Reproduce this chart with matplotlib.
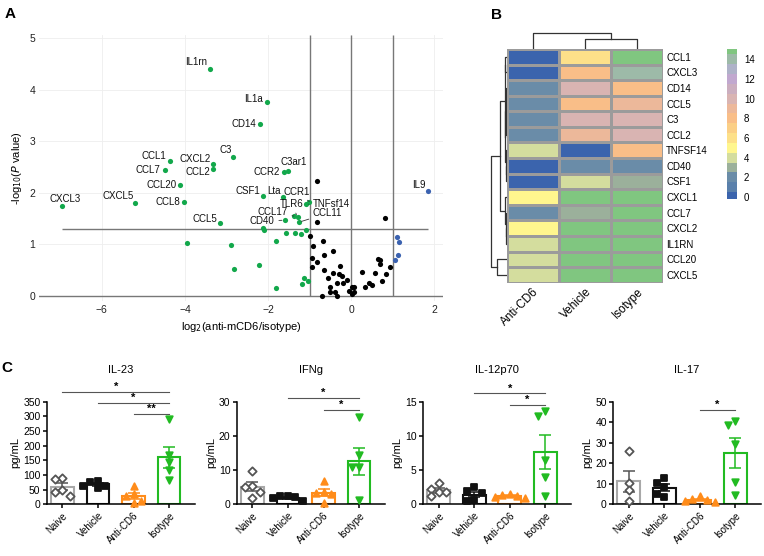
import numpy as np
import matplotlib.pyplot as plt
from matplotlib.colors import ListedColormap

plt.rcParams['font.family'] = ['Liberation Sans', 'DejaVu Sans']

# ---------------- A : volcano data ----------------
lab_genes = ['IL1rn', 'IL1a', 'CD14', 'C3', 'CCL1', 'CXCL2', 'CCL2', 'CCL7', 'CCR2', 'C3ar1',
             'CCL20', 'CSF1', 'Lta', 'CCR1', 'TNFsf14', 'CCL8', 'CXCL5', 'CXCL3', 'TLR6',
             'CCL17', 'CD40', 'CCL11', 'CCL5']
lab_fc = [-3.39, -2.02, -2.20, -2.84, -4.37, -3.32, -3.33, -4.49, -1.61, -1.52,
          -4.12, -2.13, -1.63, -1.01, -1.10, -4.01, -5.21, -6.96, -1.29,
          -1.38, -1.60, -1.26, -3.16]
lab_p = [4.39, 3.76, 3.33, 2.70, 2.62, 2.56, 2.46, 2.44, 2.40, 2.42,
         2.15, 1.93, 1.92, 1.83, 1.78, 1.83, 1.81, 1.75, 1.53,
         1.55, 1.47, 1.43, 1.41]

green_fc = [-3.95, -2.88, -2.81, -2.12, -2.10, -1.58, -1.35, -1.21, -1.09, -1.81,
            -2.22, -1.14, -1.18, -1.03, -1.80]
green_p = [1.02, 0.99, 0.52, 1.32, 1.27, 1.22, 1.23, 1.21, 1.27, 1.07,
           0.60, 0.35, 0.24, 0.30, 0.16]

black_fc = [-0.83, -0.82, 0.81, -1.00, -0.69, -0.93, -0.45, -0.66, -0.95, -0.82,
            -0.94, -0.26, -0.66, -0.43, -0.29, -0.23, -0.56, -0.11, -0.34, -0.21,
            -0.50, 0.02, 0.06, -0.05, 0.06, -0.40, -0.52, -0.70, -0.35, 0.01,
            0.25, 0.32, 0.42, 0.50, 0.57, 0.65, 0.70, 0.70, 0.73, 0.84, 0.93]
black_p = [2.22, 1.44, 1.52, 1.17, 1.07, 0.97, 0.88, 0.79, 0.73, 0.66,
           0.57, 0.59, 0.50, 0.44, 0.43, 0.39, 0.35, 0.32, 0.26, 0.25,
           0.18, 0.18, 0.17, 0.10, 0.07, 0.08, 0.07, 0.01, 0.01, 0.04,
           0.46, 0.18, 0.25, 0.21, 0.44, 0.72, 0.69, 0.62, 0.30, 0.43, 0.56]

blue_fc = [1.85, 1.11, 1.15, 1.13, 1.04]
blue_p = [2.03, 1.14, 1.05, 0.79, 0.70]

p_cut = 1.3

# label placement (pixels from the point), ha, leader line
lab_pos = {
    'IL1rn': (-3, 7, 'right', False), 'IL1a': (-4, 3, 'right', False),
    'CD14': (-4, 0, 'right', False), 'C3': (-1, 7, 'right', False),
    'CCL1': (-3, 5, 'right', False), 'CXCL2': (-2, 5, 'right', False),
    'CCL2': (-3, -3, 'right', False), 'CCL7': (-4, 0, 'right', False),
    'CCR2': (-4, 0, 'right', False), 'C3ar1': (6, 9, 'center', False),
    'CCL20': (-3, 0, 'right', False), 'CSF1': (-2, 5, 'right', False),
    'Lta': (-3, 6, 'right', False), 'CCR1': (-13, 10, 'center', True),
    'TNFsf14': (7, 0, 'left', True), 'CCL8': (-4, 0, 'right', False),
    'CXCL5': (-1, 7, 'right', False), 'CXCL3': (3, 7, 'center', False),
    'TLR6': (-6, 13, 'center', True), 'CCL17': (-6, 4, 'right', True),
    'CD40': (-10, -1, 'right', True), 'CCL11': (14, 9, 'left', True),
    'CCL5': (-3, 4, 'right', False),
}

# ---------------- B : heatmap data ----------------
hm_rows = ['CCL1', 'CXCL3', 'CD14', 'CCL5', 'C3', 'CCL2', 'TNFSF14', 'CD40', 'CSF1',
           'CXCL1', 'CCL7', 'CXCL2', 'IL1RN', 'CCL20', 'CXCL5']
hm_cols = ['Anti-CD6', 'Vehicle', 'Isotype']
anti_cd6 = [0, 0, 2, 2, 2, 2, 4, 0, 0, 5, 2, 5, 4, 4, 4]
vehicle = [6, 8, 10, 8, 10, 9, 0, 2, 4, 15, 3, 15, 15, 15, 15]
isotype = [15, 14, 8, 9, 10, 10, 8, 2, 3, 15, 15, 15, 15, 15, 15]
hm_palette = ['#3b64ad', '#5a80ab', '#6a8ca8', '#9bb09b', '#d4dd9e', '#fff68e', '#fde089',
              '#fbcf86', '#f9be88', '#ecb89a', '#d9b4b2', '#cbaebf', '#c1a8cf', '#aeb2c8',
              '#9dbaa8', '#80c680']

# dendrograms: [left, right, height]
row_tree = [[[[0, 1, .08], [[[2, 3, .03], [4, 5, .03], .05], [6, [7, 8, .04], .07], .1], .12],
             [9, [10, [11, 12, .03], .05], .08], .43],
            [13, 14, .65], 1.0]
col_tree = [0, [1, 2, .64], 1.0]

# ---------------- C : cytokines (pg/mL) ----------------
groups = ['Naive', 'Vehicle', 'Anti-CD6', 'Isotype']
il23 = [[91, 86, 48, 42, 30], [80, 76, 64, 62, 56], [62, 34, 27, 12, 5], [290, 168, 143, 117, 84]]
ifng = [[9.7, 5.3, 5.1, 3.6, 1.9], [2.5, 2.3, 2.1, 1.7, 1.0], [6.7, 3.6, 3.2, 3.0, 0.5], [25.4, 14.4, 11.0, 11.0, 1.2]]
il12 = [[3.1, 2.3, 1.8, 1.8, 1.2], [2.5, 1.9, 1.6, 0.6, 0.5], [1.5, 1.3, 1.2, 1.1, 0.9], [13.7, 12.9, 6.5, 4.0, 1.2]]
il17 = [[25.9, 10.4, 7.1, 1.6], [12.8, 10.4, 8.4, 5.2, 3.6], [3.9, 2.5, 2.0, 1.5, 1.0], [40.8, 38.8, 29.4, 10.8, 4.7]]
cyto_titles = ['IL-23', 'IFNg', 'IL-12p70', 'IL-17']
cyto_ymax = [350, 30, 15, 50]
cyto_step = [50, 10, 5, 10]
# (group a, group b, height, label)
cyto_sig = [[(0, 3, 383, '*'), (1, 3, 345, '*'), (2, 3, 308, '**')],
            [(1, 3, 31, '*'), (2, 3, 27.6, '*')],
            [(1, 3, 16.2, '*'), (2, 3, 14.5, '*')],
            [(2, 3, 46, '*')]]

W, H = 764, 556
fig = plt.figure(figsize=(W / 100, H / 100), dpi=100)


def px_axes(x0, y0, x1, y1):
    return fig.add_axes([x0 / W, 1 - y1 / H, (x1 - x0) / W, (y1 - y0) / H])


# ===== A =====
green = '#12a84b'
ax = px_axes(39.3, 35.4, 442.8, 301.2)
ax.set_xlim(-7.5, 2.2)
ax.set_ylim(-0.1, 5.05)
for s in ax.spines.values():
    s.set_visible(False)
ax.set_xticks([-6, -4, -2, 0, 2])
ax.set_yticks(range(6))
ax.grid(color='#eeeeee', lw=0.6)
ax.set_axisbelow(True)
ax.tick_params(length=0, labelsize=7.5, colors='#222222', pad=3)
ax.axhline(0, color='#777777', lw=1, zorder=1)
ax.vlines([-1, 0, 1], 0, 5.05, color='#777777', lw=1, zorder=1)
ax.hlines(p_cut, min(lab_fc), max(blue_fc), color='#777777', lw=1, zorder=1)
ax.scatter(black_fc, black_p, s=14, color='black', zorder=3, clip_on=False, lw=0)
ax.scatter(green_fc, green_p, s=14, color=green, zorder=3, clip_on=False, lw=0)
ax.scatter(lab_fc, lab_p, s=14, color=green, zorder=3, clip_on=False, lw=0)
ax.scatter(blue_fc, blue_p, s=14, color='#3b62b0', zorder=3, clip_on=False, lw=0)
for g, x, y in zip(lab_genes, lab_fc, lab_p):
    dx, dy, ha, lead = lab_pos[g]
    ax.annotate(g, (x, y), xytext=(dx, dy), textcoords='offset pixels', ha=ha, va='center',
                fontsize=7, color='#111111', zorder=4,
                arrowprops=dict(arrowstyle='-', color='#333333', lw=0.6, shrinkA=1, shrinkB=2) if lead else None)
ax.annotate('IL9', (blue_fc[0], blue_p[0]), xytext=(-3, 6), textcoords='offset pixels', ha='right',
            va='center', fontsize=7, color='#111111')
ax.set_xlabel('log$_2$(anti-mCD6/isotype)', fontsize=8, labelpad=3)
ax.set_ylabel('-log$_{10}$($\\mathit{P}$ value)', fontsize=8, labelpad=4)

# ===== B =====
vals = np.array([anti_cd6, vehicle, isotype]).T
cmap = ListedColormap(hm_palette)
axh = px_axes(506.7, 49, 663.3, 282.7)
mesh = axh.pcolormesh(vals, cmap=cmap, vmin=-0.5, vmax=15.5, edgecolors='#9b9b9b', lw=0.8)
axh.set_xlim(0, 3)
axh.set_ylim(len(hm_rows), 0)
for s in axh.spines.values():
    s.set_visible(False)
axh.yaxis.tick_right()
axh.set_yticks(np.arange(len(hm_rows)) + 0.5)
axh.set_yticklabels(hm_rows, fontsize=7)
axh.set_xticks(np.arange(3) + 0.5)
axh.set_xticklabels(hm_cols, fontsize=8.5, rotation=45, ha='right', va='top', rotation_mode='anchor')
axh.tick_params(length=0, pad=2)

cax = px_axes(727, 49, 737, 199)
cb = fig.colorbar(mesh, cax=cax)
cb.outline.set_visible(False)
cb.set_ticks(range(0, 15, 2))
cax.set_ylim(-0.2, 15.05)
cax.tick_params(length=0, labelsize=7, pad=5)


def draw_tree(a, node, orient):
    # returns (position, height)
    if not isinstance(node, list):
        return node + 0.5, 0.0
    p1, h1 = draw_tree(a, node[0], orient)
    p2, h2 = draw_tree(a, node[1], orient)
    h = node[2]
    if orient == 'left':
        a.plot([h1, h, h, h2], [p1, p1, p2, p2], color='#333333', lw=0.9)
    else:
        a.plot([p1, p1, p2, p2], [h1, h, h, h2], color='#333333', lw=0.9)
    return (p1 + p2) / 2, h


axr = px_axes(490, 49, 506.7, 282.7)
draw_tree(axr, row_tree, 'left')
axr.set_xlim(1.085, 0)
axr.set_ylim(len(hm_rows), 0)
axr.axis('off')

axc = px_axes(506.7, 30, 663.3, 49)
draw_tree(axc, col_tree, 'top')
axc.set_xlim(0, 3)
axc.set_ylim(0, 1.21)
axc.axis('off')

# ===== C =====
cols_edge = ['#a8a8a8', '#111111', '#ff8c1a', '#22bb22']
mk = ['D', 's', '^', 'v']
mk_face = ['white', '#111111', '#ff8c1a', '#22bb22']
mk_edge = ['#555555', '#111111', '#ff8c1a', '#22bb22']


def swarm(v, dy, dx=0.21):
    # simple beeswarm: place each point at the first free horizontal slot
    v = np.asarray(v, float)
    off = np.zeros(len(v))
    placed = []
    for i in np.argsort(-v):
        for step in [0, -1, 1, -2, 2, -3, 3]:
            x = step * dx
            if all(abs(x - px) > dx * 0.9 or abs(v[i] - py) > dy for px, py in placed):
                break
        off[i] = x
        placed.append((x, v[i]))
    return off


lefts = [46.7, 236.7, 423, 613]
for k, data in enumerate([il23, ifng, il12, il17]):
    a = px_axes(lefts[k], 401.7, lefts[k] + 148, 504.3)
    ymax = cyto_ymax[k]
    for g, v in enumerate(data):
        m = np.mean(v)
        sem = np.std(v, ddof=1) / np.sqrt(len(v))
        a.bar(g, m, width=0.64, facecolor='white', edgecolor=cols_edge[g], lw=1.5, zorder=1)
        a.errorbar(g, m, yerr=sem, color=mk_edge[g], capsize=4, lw=1.1, capthick=1.1, zorder=2)
        off = swarm(v, ymax * 0.065)
        a.scatter(g + off, v, marker=mk[g], s=22 if g else 18, facecolor=mk_face[g],
                  edgecolor=mk_edge[g], lw=1.3, zorder=3, clip_on=False)
    a.set_xlim(-0.44, 3.72)
    a.set_ylim(0, ymax)
    a.set_yticks(np.arange(0, ymax + 1, cyto_step[k]))
    a.spines['top'].set_visible(False)
    a.spines['right'].set_visible(False)
    for s in ['left', 'bottom']:
        a.spines[s].set_linewidth(1.1)
    a.tick_params(labelsize=7.5, width=1.1, length=3, pad=1.5)
    a.set_xticks(range(4))
    a.set_xticklabels(groups, fontsize=7, rotation=45, ha='right', va='top', rotation_mode='anchor')
    a.set_ylabel('pg/mL', fontsize=8, labelpad=2)
    a.set_title(cyto_titles[k], fontsize=8, pad=21)
    for g1, g2, yy, txt in cyto_sig[k]:
        a.plot([g1, g2], [yy, yy], color='#555555', lw=0.8, clip_on=False)
        a.text((g1 + g2) / 2, yy, txt, ha='center', va='bottom', fontsize=8, fontweight='bold')

fig.text(10 / W, 1 - 14 / H, 'A', fontsize=11, fontweight='bold', ha='center', va='center')
fig.text(496 / W, 1 - 15 / H, 'B', fontsize=11, fontweight='bold', ha='center', va='center')
fig.text(7 / W, 1 - 368 / H, 'C', fontsize=11, fontweight='bold', ha='center', va='center')

fig.savefig('out.png', dpi=100)
